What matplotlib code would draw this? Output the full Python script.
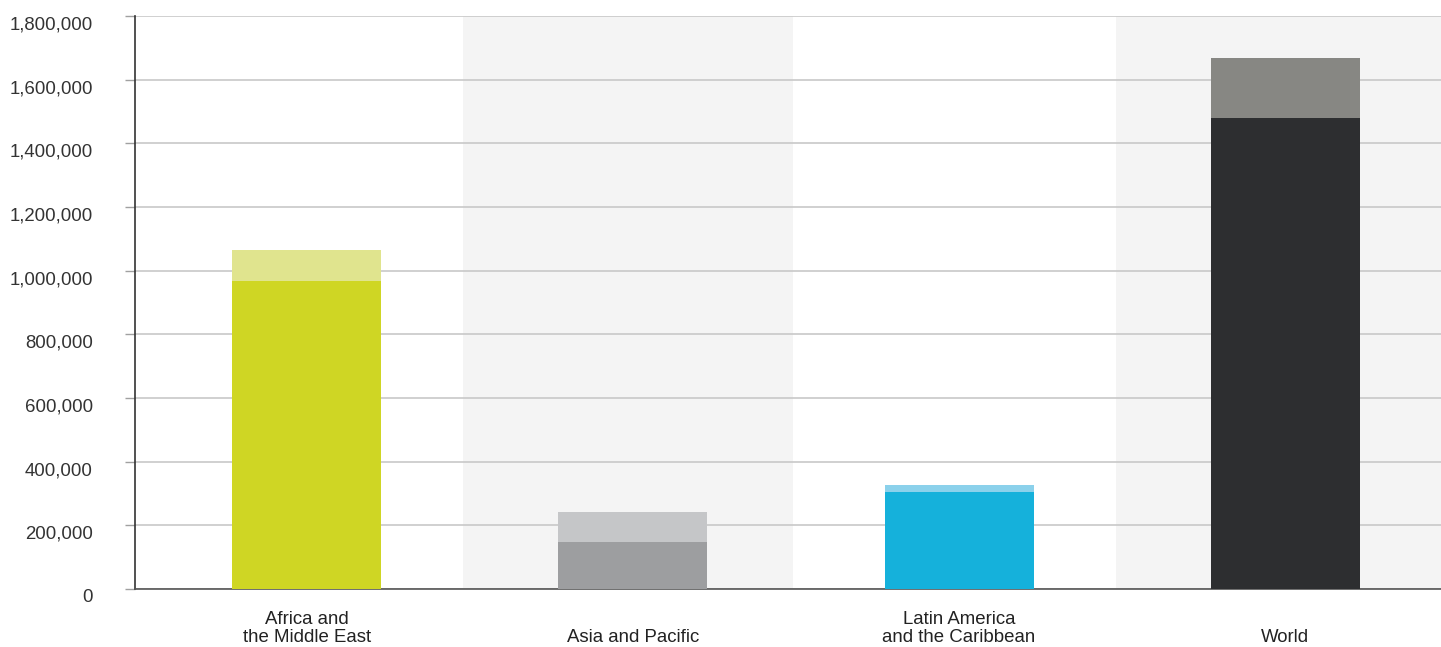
import matplotlib.pyplot as plt
import matplotlib.transforms as mtransforms
from matplotlib.ticker import FuncFormatter

regions = ["Africa and\nthe Middle East", "Asia and Pacific",
           "Latin America\nand the Caribbean", "World"]
lower_vals = [968000, 148000, 305000, 1480000]
upper_vals = [97000, 94000, 22000, 188000]
lower_colors = ["#cfd624", "#9d9ea0", "#15b1db", "#2d2e30"]
upper_colors = ["#e0e48e", "#c5c6c8", "#8bd1eb", "#878783"]
y_ticks = [0, 200000, 400000, 600000, 800000, 1000000, 1200000, 1400000, 1600000, 1800000]

plt.rcParams['font.family'] = ['Liberation Sans', 'DejaVu Sans']

fig = plt.figure(figsize=(14.41, 6.47), dpi=100)
ax = fig.add_axes([135 / 1441, 58 / 647, 1 - 135 / 1441, 573 / 647])

x = list(range(len(regions)))

# shaded bands behind every second category
for i in x:
    if i % 2 == 1:
        ax.axvspan(i - 0.52, i + 0.49, color="#f4f4f4", zorder=0, lw=0)

ax.bar(x, lower_vals, width=0.457, color=lower_colors, zorder=3)
ax.bar(x, upper_vals, bottom=lower_vals, width=0.457, color=upper_colors, zorder=3)

ax.set_xlim(-0.526, 3.477)
ax.set_ylim(0, 1800000)
ax.set_yticks(y_ticks)
ax.yaxis.set_major_formatter(FuncFormatter(lambda v, p: f"{int(v):,}"))
ax.grid(axis="y", color="#c4c4c4", lw=1.1, zorder=1)
ax.set_axisbelow(True)

ax.tick_params(axis="y", length=7.5, width=1, color="#a0a0a0", pad=23,
               labelsize=13.4, labelcolor="#333333")
ax.set_xticks([])

for lbl in ax.get_yticklabels():
    lbl.set_transform(lbl.get_transform() +
                      mtransforms.ScaledTranslation(0, -7 / 100, fig.dpi_scale_trans))

for side in ["top", "right"]:
    ax.spines[side].set_visible(False)
ax.spines["left"].set_color("#333333")
ax.spines["left"].set_linewidth(1.2)
ax.spines["bottom"].set_color("#555555")
ax.spines["bottom"].set_linewidth(1.2)

for i, name in zip(x, regions):
    ax.text(i, -0.1, name, transform=ax.get_xaxis_transform(), ha="center",
            va="bottom", fontsize=13.4, color="#222222", linespacing=1.1)

fig.savefig("out.png", dpi=100)
